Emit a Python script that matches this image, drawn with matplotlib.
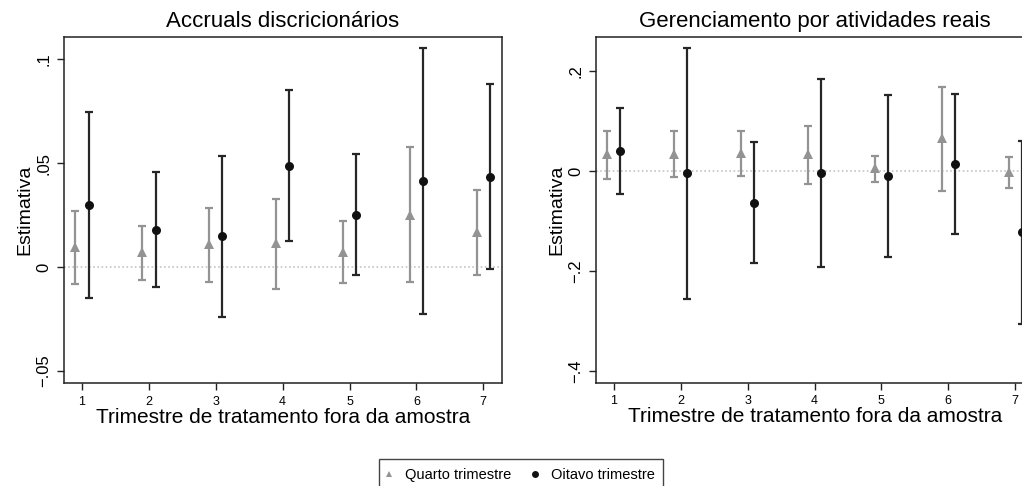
import matplotlib
matplotlib.use("Agg")
import matplotlib.pyplot as plt
from matplotlib.patches import Rectangle
from matplotlib.lines import Line2D
import numpy as np

plt.rcParams['font.family'] = ['Liberation Sans', 'DejaVu Sans']

quarters = [1, 2, 3, 4, 5, 6, 7]
x_tick_labels = ["1", "2", "3", "4", "5", "6", "7"]

# Left panel: Accruals discricionários
acc_q4 = [0.0098, 0.0072, 0.0110, 0.0114, 0.0072, 0.0250, 0.0167]
acc_q4_lo = [-0.0082, -0.0062, -0.0071, -0.0107, -0.0078, -0.0072, -0.0038]
acc_q4_hi = [0.0270, 0.0197, 0.0282, 0.0327, 0.0221, 0.0578, 0.0370]
acc_q8 = [0.0298, 0.0178, 0.0147, 0.0487, 0.0250, 0.0412, 0.0434]
acc_q8_lo = [-0.0151, -0.0095, -0.0239, 0.0127, -0.0038, -0.0226, -0.0011]
acc_q8_hi = [0.0747, 0.0455, 0.0535, 0.0853, 0.0545, 0.1052, 0.0878]
acc_yticks = [-0.05, 0.0, 0.05, 0.1]
acc_ytick_labels = ["\u2212.05", "0", ".05", ".1"]

# Right panel: Gerenciamento por atividades reais
rem_q4 = [0.033, 0.034, 0.036, 0.033, 0.006, 0.065, -0.002]
rem_q4_lo = [-0.016, -0.013, -0.010, -0.027, -0.022, -0.041, -0.035]
rem_q4_hi = [0.079, 0.079, 0.080, 0.090, 0.029, 0.167, 0.027]
rem_q8 = [0.039, -0.005, -0.064, -0.004, -0.011, 0.013, -0.123]
rem_q8_lo = [-0.046, -0.256, -0.185, -0.191, -0.173, -0.127, -0.306]
rem_q8_hi = [0.126, 0.246, 0.057, 0.184, 0.151, 0.153, 0.059]
rem_yticks = [-0.4, -0.2, 0.0, 0.2]
rem_ytick_labels = ["\u2212.4", "\u2212.2", "0", ".2"]

titles = ["Accruals discricionários", "Gerenciamento por atividades reais"]
xlabel = "Trimestre de tratamento fora da amostra"
ylabel = "Estimativa"
legend_labels = ["Quarto trimestre", "Oitavo trimestre"]

GRAY = "#939393"
BLACK = "#111111"
BLACK_LINE = "#262626"

W, H = 1022, 486
fig = plt.figure(figsize=(W / 100, H / 100), dpi=100)

def px_axes(left, top, right, bottom):
    return fig.add_axes([left / W, 1 - bottom / H, (right - left) / W, (bottom - top) / H])

ax1 = px_axes(64, 37, 502, 383)
ax2 = px_axes(595.7, 36.7, 1034, 382.7)

panels = [
    (ax1, acc_q4, acc_q4_lo, acc_q4_hi, acc_q8, acc_q8_lo, acc_q8_hi, acc_yticks, acc_ytick_labels, (-0.0558, 0.1106)),
    (ax2, rem_q4, rem_q4_lo, rem_q4_hi, rem_q8, rem_q8_lo, rem_q8_hi, rem_yticks, rem_ytick_labels, (-0.4234, 0.2686)),
]

x = np.array(quarters, dtype=float)
for i, (ax, q4, q4lo, q4hi, q8, q8lo, q8hi, yt, ytl, ylim) in enumerate(panels):
    q4 = np.array(q4); q8 = np.array(q8)
    ax.axhline(0, color="#c4c4c4", lw=1.2, ls=(0, (1, 1.5)), zorder=0)
    ax.errorbar(x - 0.1, q4, yerr=[q4 - np.array(q4lo), np.array(q4hi) - q4],
                fmt='none', ecolor=GRAY, elinewidth=1.6, capsize=3, capthick=1.6)
    ax.plot(x - 0.1, q4, ls='none', marker='^', color=GRAY, ms=6.5, mew=0)
    ax.errorbar(x + 0.1, q8, yerr=[q8 - np.array(q8lo), np.array(q8hi) - q8],
                fmt='none', ecolor=BLACK_LINE, elinewidth=1.6, capsize=3, capthick=1.6)
    ax.plot(x + 0.1, q8, ls='none', marker='o', color=BLACK, ms=6.5, mew=0)
    ax.set_xlim(0.73, 7.28)
    ax.set_ylim(*ylim)
    ax.set_xticks(quarters)
    ax.set_xticklabels(x_tick_labels, fontsize=9)
    ax.set_yticks(yt)
    ax.set_yticklabels(ytl, fontsize=12, rotation=90, va='center')
    ax.tick_params(axis='both', direction='out', length=5, width=1, color='#222222')
    ax.tick_params(axis='y', pad=4)
    ax.tick_params(axis='x', pad=4)
    for s in ax.spines.values():
        s.set_linewidth(1.1)
        s.set_color('#222222')
    ax.set_title(titles[i], fontsize=16, pad=7)
    ax.set_xlabel(xlabel, fontsize=15, labelpad=0)
    ax.set_ylabel(ylabel, fontsize=14, labelpad=2)

# Legend
handles = [
    Line2D([], [], marker='^', color=GRAY, ls='none', ms=5, mew=0),
    Line2D([], [], marker='o', color=BLACK, ls='none', ms=5, mew=0),
]
leg = fig.legend(handles, legend_labels, loc='upper center',
                 bbox_to_anchor=(519 / W, 1 - 455 / H), ncol=2, frameon=False,
                 fontsize=10.5, handlelength=0.8, handletextpad=0.7, columnspacing=1.25)
fig.patches.append(Rectangle((379 / W, -0.3), (663 - 379) / W, (1 - 459 / H) + 0.3,
                             transform=fig.transFigure, fill=False, edgecolor='#444444',
                             lw=1.0, clip_on=False))

fig.savefig("out.png", dpi=100)
